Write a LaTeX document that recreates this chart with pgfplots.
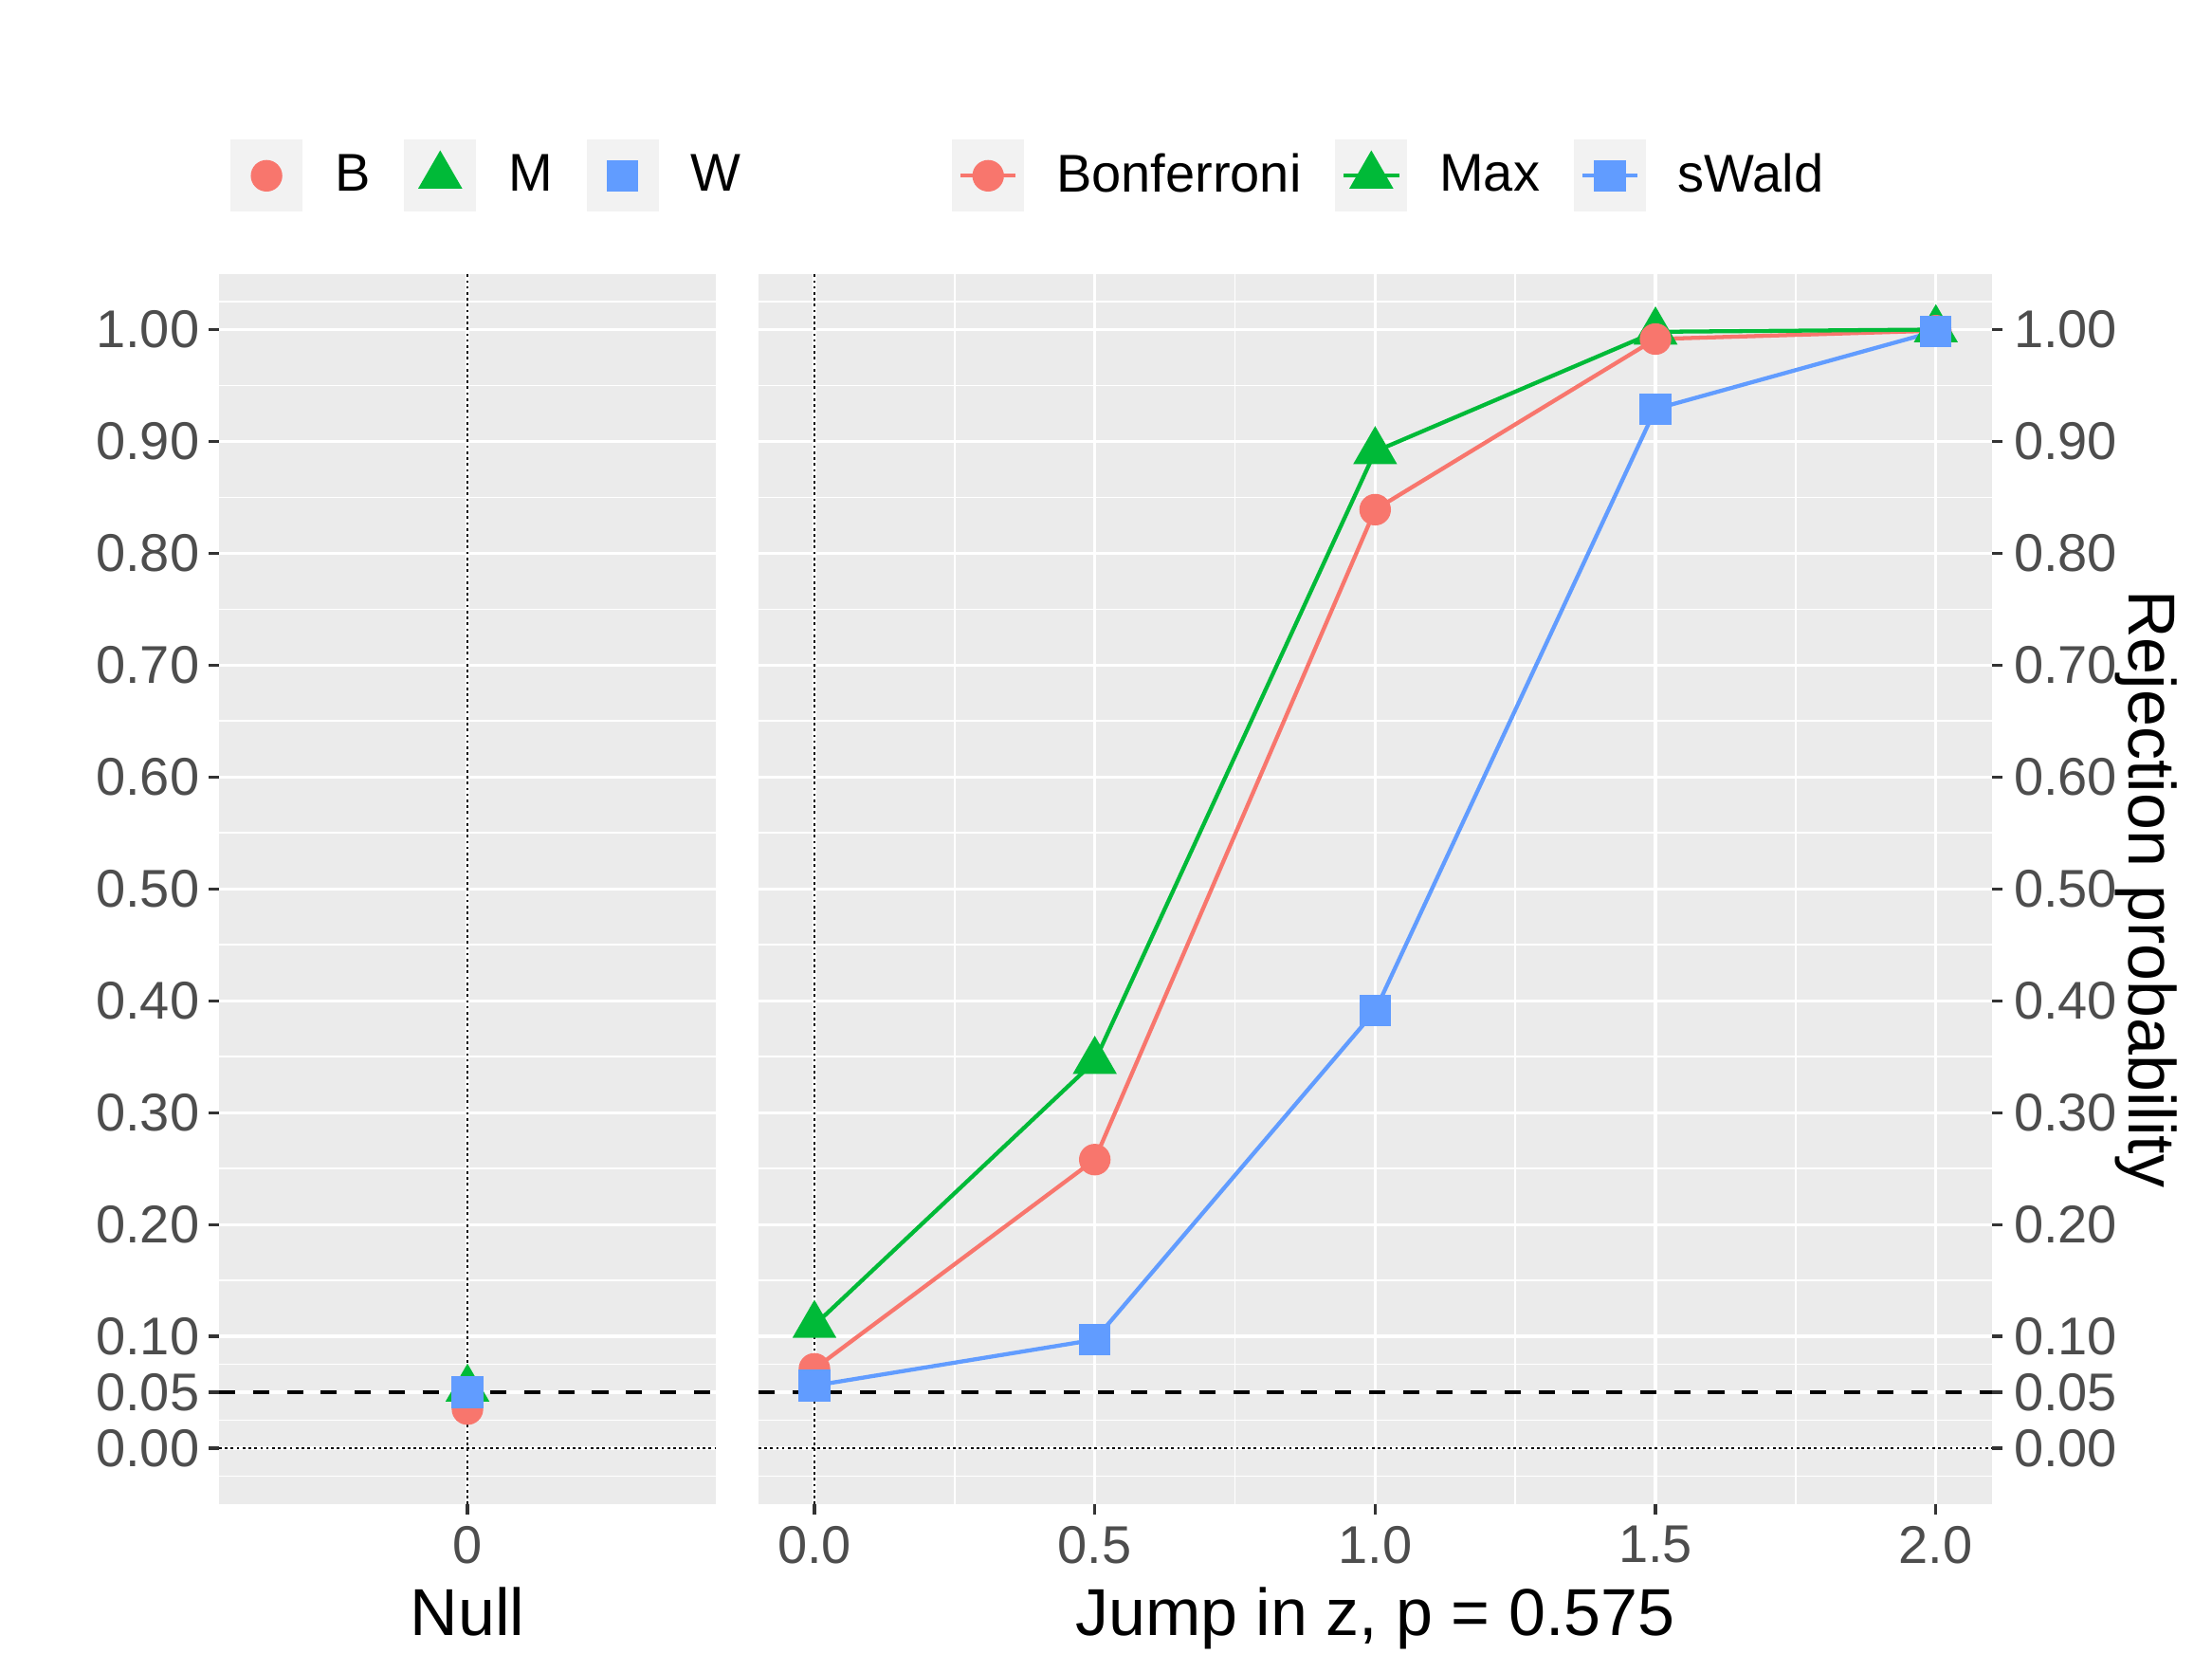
\documentclass[border=0pt]{standalone}
\usepackage{fontspec}
\setmainfont{Liberation Sans}
\usepackage{pgfplots}
\pgfplotsset{compat=1.18}
\definecolor{cB}{HTML}{F8766D}
\definecolor{cM}{HTML}{00BA38}
\definecolor{cW}{HTML}{619CFF}
\definecolor{panelbg}{HTML}{EBEBEB}
\definecolor{keybg}{HTML}{F2F2F2}
\definecolor{tickcol}{HTML}{333333}
\definecolor{labcol}{HTML}{4D4D4D}
\newcommand\tickfont{\fontsize{14.4bp}{17bp}\selectfont}
\newcommand\legfont{\fontsize{14.4bp}{17bp}\selectfont}
\newcommand\titlefont{\fontsize{18bp}{21bp}\selectfont}
\pgfplotsset{
  panel/.style={
    scale only axis, height=333.7bp, ymin=-0.05, ymax=1.05,
    axis background/.style={fill=panelbg},
    axis line style={draw=none},
    ytick={0,0.05,0.1,0.2,0.3,0.4,0.5,0.6,0.7,0.8,0.9,1},
    yticklabels={0.00,0.05,0.10,0.20,0.30,0.40,0.50,0.60,0.70,0.80,0.90,1.00},
    minor ytick={-0.025,0.025,0.075,0.15,0.25,0.35,0.45,0.55,0.65,0.75,0.85,0.95,1.025},
    ymajorgrids, yminorgrids, xmajorgrids,
    major grid style={white, line width=0.85bp},
    minor grid style={white, line width=0.45bp},
    tick align=outside, major tick length=2.75bp, minor tick length=0pt,
    tick style={tickcol, line width=0.85bp},
    xtick pos=bottom,
    tick label style={font=\tickfont, text=labcol},
    xticklabel style={inner sep=0pt, yshift=-3bp},
    yticklabel style={inner sep=0pt},
    legend columns=3,
    legend style={draw=none, fill=none, inner sep=0pt, outer sep=0pt,
      font=\legfont, text=black, anchor=west,
      nodes={inner sep=0pt},
      /tikz/every odd column/.append style={column sep=8.7bp},
      /tikz/every even column/.append style={column sep=9.2bp}},
    legend cell align=left,
    legend image code/.code={%
      \fill[keybg] (0bp,-9.25bp) rectangle (18.5bp,9.25bp);
      \draw[mark repeat=2,mark phase=2,##1] plot coordinates {(1.75bp,0bp) (9.25bp,0bp) (16.75bp,0bp)};
    },
  },
  sB/.style={cB, line width=1.1bp, mark=*, mark size=3.73bp, mark options={solid, fill=cB, draw=none}},
  sM/.style={cM, line width=1.1bp, mark=triangle*, mark size=5.8bp, mark options={solid, fill=cM, draw=none}},
  sW/.style={cW, line width=1.1bp, mark=square*, mark size=3.73bp, mark options={solid, fill=cW, draw=none}},
  hdash/.style={black, line width=0.95bp, dash pattern=on 4.4bp off 4.8bp, forget plot},
  hdot/.style={black, line width=0.3bp, dash pattern=on 0.7bp off 0.9bp, forget plot},
}
\pgfplotstableread{
x B M W
0.0 0.071 0.110 0.056
0.5 0.258 0.346 0.097
1.0 0.839 0.891 0.391
1.5 0.9915 0.998 0.929
2.0 0.999 1.000 0.9985
}\jumpdata
\pgfplotstableread{
x B M W
0 0.035 0.053 0.050
}\nulldata
\begin{document}
\begin{tikzpicture}
\path[use as bounding box] (0,0) rectangle (600bp,453.2bp);
% Null panel
\begin{axis}[panel, at={(59.4bp,45.3bp)}, anchor=south west, width=134.8bp,
  xmin=-0.6, xmax=0.6, xtick={0}, xticklabels={0},
  ytick pos=left,
  yticklabel style={xshift=-2.4bp},
  legend style={at={(0.023,1.0795)}}]
\addlegendimage{sB, only marks}\addlegendentry{B}
\addlegendimage{sM, only marks}\addlegendentry{M}
\addlegendimage{sW, only marks}\addlegendentry{W}
\addplot[sM, only marks, forget plot] table[x=x, y=M] {\nulldata};
\addplot[sB, only marks, forget plot] table[x=x, y=B] {\nulldata};
\addplot[sW, only marks, forget plot] table[x=x, y=W] {\nulldata};
\addplot[hdash] coordinates {(-0.6,0.05) (0.6,0.05)};
\addplot[hdot] coordinates {(-0.6,0) (0.6,0)};
\addplot[hdot] coordinates {(0,-0.05) (0,1.05)};
\end{axis}
% Jump panel
\begin{axis}[panel, at={(205.7bp,45.3bp)}, anchor=south west, width=334.6bp,
  xmin=-0.1, xmax=2.1, xtick={0,0.5,1,1.5,2}, xticklabels={0.0,0.5,1.0,1.5,2.0},
  minor xtick={0.25,0.75,1.25,1.75}, xminorgrids,
  ytick pos=right, yticklabel pos=right,
  yticklabel style={xshift=3bp},
  legend style={at={(0.157,1.0795)}}]
\addlegendimage{sB}\addlegendentry{Bonferroni}
\addlegendimage{sM}\addlegendentry{Max}
\addlegendimage{sW}\addlegendentry{sWald}
\addplot[sB, no markers, forget plot] table[x=x, y=B] {\jumpdata};
\addplot[sM, no markers, forget plot] table[x=x, y=M] {\jumpdata};
\addplot[sW, no markers, forget plot] table[x=x, y=W] {\jumpdata};
\addplot[sM, only marks, forget plot] table[x=x, y=M] {\jumpdata};
\addplot[sB, only marks, forget plot] table[x=x, y=B] {\jumpdata};
\addplot[sW, only marks, forget plot] table[x=x, y=W] {\jumpdata};
\addplot[hdash] coordinates {(-0.1,0.05) (2.1,0.05)};
\addplot[hdot] coordinates {(-0.1,0) (2.1,0)};
\addplot[hdot] coordinates {(0,-0.05) (0,1.05)};
\end{axis}
\node[anchor=base, font=\titlefont] at (126.8bp,9.8bp) {Null};
\node[anchor=base, font=\titlefont] at (373.0bp,9.8bp) {Jump in z, p = 0.575};
\node[anchor=base, rotate=-90, font=\titlefont] at (577.4bp,212.1bp) {Rejection probability};
\end{tikzpicture}
\end{document}
